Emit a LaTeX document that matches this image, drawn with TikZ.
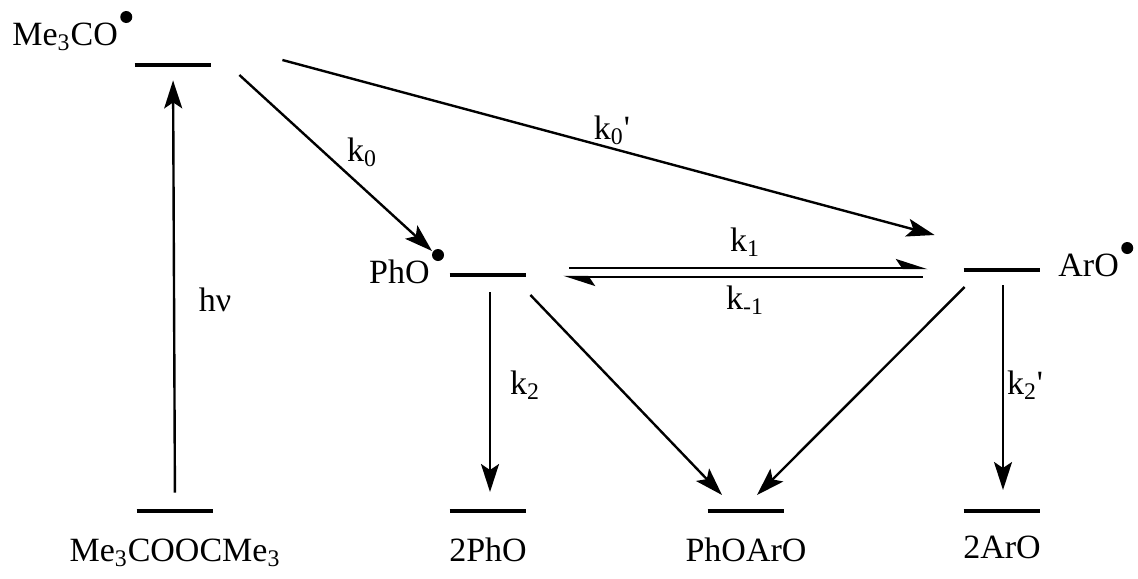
\documentclass[tikz,border=0pt]{standalone}
\usepackage{fontspec}
\setmainfont{Liberation Serif}
\usetikzlibrary{arrows.meta, positioning}

\begin{document}
\begin{tikzpicture}[
  x=0.5pt, y=-0.5pt,
  lvl/.style={minimum width=38pt, minimum height=0pt, inner sep=0pt},
  level/.style={line width=1.7pt},
  spec/.style={font=\fontsize{17}{20}\selectfont, inner sep=0pt},
  rate/.style={font=\fontsize{17}{20}\selectfont, inner sep=1pt},
  arr/.style={-{Stealth[length=14pt, width=9pt, inset=3pt]}, line width=1.2pt},
  harp/.style={-{Stealth[left, length=14pt, width=9pt, inset=3pt]}, line width=1.2pt}
]
  \useasboundingbox (0,0) rectangle (1138,578);

  % energy levels
  \node[lvl] (meco)   at (173,65)  {};
  \node[lvl] (perox)  at (175,511) {};
  \node[lvl] (pho)    at (488,275) {};
  \node[lvl] (aro)    at (1002,270) {};
  \node[lvl] (phoph)  at (488,511) {};
  \node[lvl] (phoaro) at (746,511) {};
  \node[lvl] (aroar)  at (1002,511) {};
  \foreach \n in {meco,perox,pho,aro,phoph,phoaro,aroar}
    \draw[level] (\n.west) -- (\n.east);

  % species
  \node[spec, anchor=base west] (mecolab) at (12,45)   {Me\textsubscript{3}CO};
  \node[spec, anchor=base east] (pholab)  at (430,283) {PhO};
  \node[spec, anchor=base west] (arolab)  at (1058,276) {ArO};
  \foreach \n in {mecolab,pholab,arolab}
    \fill ([shift={(8,-28)}]\n.base east) circle (6);
  \node[spec, anchor=base] (peroxlab)  at (175,561)  {Me\textsubscript{3}COOCMe\textsubscript{3}};
  \node[spec, anchor=base] (phophlab)  at (488,561)  {2PhO};
  \node[spec, anchor=base] (phoarolab) at (746,561)  {PhOArO};
  \node[spec, anchor=base] (aroarlab)  at (1002,558) {2ArO};

  % rate constants
  \node[rate] (hv)  at (215,300) {hν};
  \node[rate] (k0)  at (362,152) {k\textsubscript{0}};
  \node[rate] (k0p) at (612,130) {k\textsubscript{0}\textquotesingle};
  \node[rate] (k1)  at (745,242) {k\textsubscript{1}};
  \node[rate] (km1) at (745,300) {k\textsubscript{-1}};
  \node[rate] (k2)  at (525,385) {k\textsubscript{2}};
  \node[rate] (k2p) at (1025,385) {k\textsubscript{2}\textquotesingle};

  % reactions
  \draw[arr, shorten <=9pt, shorten >=7.5pt] (perox) -- (meco);
  \draw[arr] ([shift={(28,10)}]meco.east) -- ([shift={(2,-8)}]pholab.north east);
  \draw[arr] ([shift={(71,-5)}]meco.east) -- ([shift={(-29,-35)}]aro.west);
  \draw[harp] ([shift={(43,-7)}]pho.east) -- ([shift={(-36,-2)}]aro.west);
  \draw[harp] ([shift={(-41,7)}]aro.west) -- ([shift={(37,2)}]pho.east);
  \draw[arr] ([shift={(2,17)}]pho.center) -- ([shift={(2,-19)}]phoph.center);
  \draw[arr] ([shift={(4,20)}]pho.east) -- ([shift={(-24,-16)}]phoaro.center);
  \draw[arr] ([shift={(1,17)}]aro.west) -- ([shift={(11,-16)}]phoaro.center);
  \draw[arr] ([shift={(1,15)}]aro.center) -- ([shift={(1,-21)}]aroar.center);
\end{tikzpicture}
\end{document}
